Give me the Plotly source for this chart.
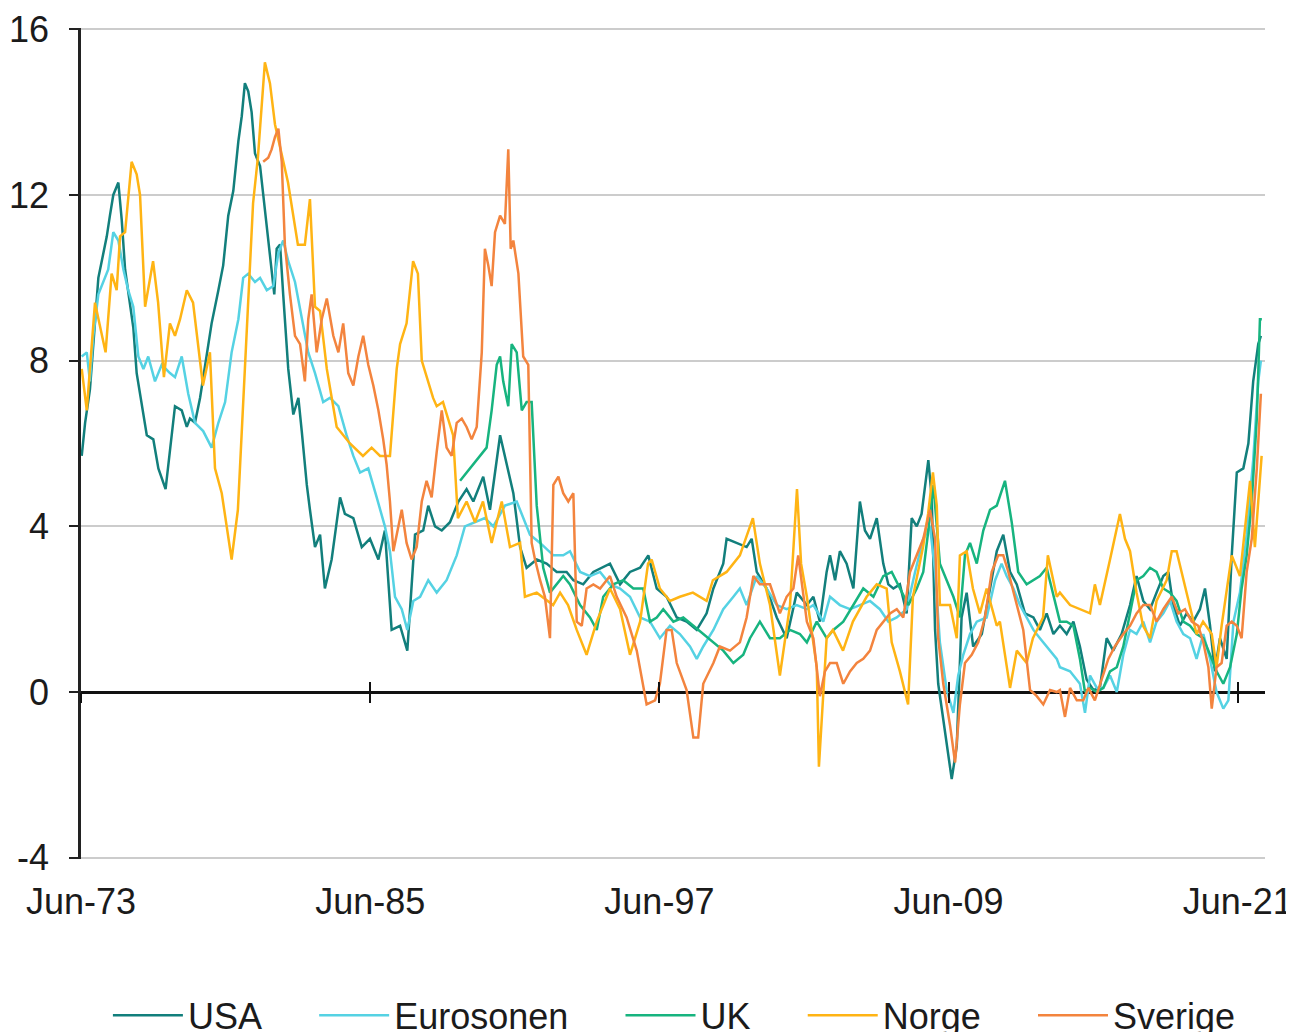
import plotly.graph_objects as go

# ---- data (year, y/y inflation %) ----
usa = [(1973.45,5.7),(1973.59,6.5),(1973.79,7.3),(1974.00,8.8),(1974.14,10.0),(1974.28,10.4),(1974.49,11.0),(1974.62,11.5),(1974.76,12.0),(1974.97,12.3),(1975.11,11.4),(1975.25,10.2),(1975.45,9.4),(1975.59,8.8),(1975.73,7.7),(1975.94,6.9),(1976.15,6.2),(1976.42,6.1),(1976.63,5.4),(1976.93,4.9),(1977.11,5.9),(1977.32,6.9),(1977.60,6.8),(1977.81,6.4),(1977.94,6.6),(1978.15,6.5),(1978.36,7.1),(1978.64,8.2),(1978.84,8.9),(1979.12,9.7),(1979.32,10.3),(1979.53,11.5),(1979.74,12.1),(1979.95,13.3),(1980.09,13.9),(1980.22,14.7),(1980.36,14.5),(1980.50,14.0),(1980.64,13.0),(1980.85,12.7),(1981.05,11.7),(1981.26,10.6),(1981.44,9.6),(1981.54,10.7),(1981.68,10.8),(1981.81,9.6),(1982.02,7.8),(1982.23,6.7),(1982.44,7.1),(1982.58,6.3),(1982.79,5.0),(1982.92,4.4),(1983.13,3.5),(1983.34,3.8),(1983.54,2.5),(1983.82,3.2),(1984.17,4.7),(1984.37,4.3),(1984.72,4.2),(1985.07,3.5),(1985.41,3.7),(1985.76,3.2),(1986.03,3.9),(1986.31,1.5),(1986.66,1.6),(1986.96,1.0),(1987.28,3.8),(1987.62,3.9),(1987.83,4.5),(1988.11,4.0),(1988.39,3.9),(1988.73,4.1),(1989.08,4.6),(1989.42,4.9),(1989.70,4.6),(1990.11,5.2),(1990.39,4.4),(1990.81,6.2),(1991.08,5.5),(1991.36,4.8),(1991.64,3.5),(1991.91,3.0),(1992.33,3.2),(1992.74,3.1),(1993.16,2.9),(1993.57,2.9),(1993.85,2.7),(1994.26,2.6),(1994.68,2.9),(1995.37,3.1),(1995.79,2.6),(1996.20,2.9),(1996.62,3.0),(1996.96,3.3),(1997.31,2.5),(1997.72,2.3),(1998.14,1.8),(1998.55,1.7),(1998.97,1.5),(1999.38,1.9),(1999.66,2.5),(2000.07,3.1),(2000.21,3.7),(2000.63,3.6),(2001.04,3.5),(2001.25,3.7),(2001.46,2.9),(2001.87,2.5),(2002.29,1.8),(2002.70,1.3),(2003.12,2.4),(2003.54,2.1),(2003.81,2.3),(2004.08,1.7),(2004.36,2.9),(2004.50,3.3),(2004.71,2.7),(2004.91,3.4),(2005.19,3.1),(2005.47,2.5),(2005.74,4.6),(2005.95,3.9),(2006.16,3.7),(2006.44,4.2),(2006.71,3.1),(2006.92,2.6),(2007.13,2.5),(2007.40,2.6),(2007.68,1.9),(2007.89,4.2),(2008.10,4.0),(2008.30,4.3),(2008.58,5.6),(2008.72,4.7),(2008.86,1.5),(2008.99,0.2),(2009.27,-0.9),(2009.55,-2.1),(2009.76,-1.3),(2009.96,1.8),(2010.17,2.4),(2010.44,1.1),(2010.80,1.4),(2011.14,2.5),(2011.42,3.4),(2011.69,3.8),(2011.97,2.9),(2012.25,2.6),(2012.59,1.9),(2012.94,1.8),(2013.21,1.5),(2013.49,1.9),(2013.77,1.4),(2014.04,1.6),(2014.32,1.4),(2014.60,1.7),(2014.87,1.1),(2015.15,0.3),(2015.43,0.05),(2015.70,0.1),(2015.98,1.3),(2016.25,1.0),(2016.60,1.4),(2016.95,2.1),(2017.22,2.8),(2017.50,2.2),(2017.78,2.0),(2018.05,2.4),(2018.33,2.8),(2018.54,2.9),(2018.74,2.1),(2019.02,1.6),(2019.30,1.9),(2019.57,1.7),(2019.85,2.0),(2020.06,2.5),(2020.27,1.6),(2020.47,0.5),(2020.68,1.3),(2020.96,0.8),(2021.17,3.3),(2021.38,5.3),(2021.65,5.4),(2021.86,6.0),(2022.06,7.5),(2022.27,8.4),(2022.38,8.6)]

eurosonen = [(1973.45,8.1),(1973.66,8.2),(1973.79,7.5),(1973.93,8.6),(1974.14,9.6),(1974.35,9.9),(1974.55,10.2),(1974.76,11.1),(1974.97,10.9),(1975.18,10.2),(1975.38,9.7),(1975.59,9.3),(1975.80,8.1),(1976.01,7.8),(1976.21,8.1),(1976.49,7.5),(1976.77,7.9),(1977.11,7.7),(1977.32,7.6),(1977.60,8.1),(1977.87,7.2),(1978.15,6.5),(1978.49,6.3),(1978.84,5.9),(1979.12,6.5),(1979.40,7.0),(1979.67,8.2),(1979.95,9.0),(1980.15,10.0),(1980.36,10.1),(1980.64,9.9),(1980.85,10.0),(1981.13,9.7),(1981.40,9.8),(1981.61,10.6),(1981.81,10.9),(1982.02,10.4),(1982.30,9.9),(1982.58,9.0),(1982.85,8.2),(1983.13,7.7),(1983.47,7.0),(1983.75,7.1),(1984.10,6.9),(1984.44,6.2),(1984.72,5.7),(1985.00,5.3),(1985.34,5.4),(1985.69,4.7),(1986.03,4.0),(1986.24,3.4),(1986.45,2.3),(1986.73,2.0),(1986.96,1.5),(1987.21,2.2),(1987.49,2.3),(1987.83,2.7),(1988.18,2.4),(1988.59,2.7),(1989.01,3.3),(1989.35,4.0),(1989.77,4.1),(1990.18,4.2),(1990.53,4.0),(1991.01,4.5),(1991.50,4.6),(1991.64,4.4),(1992.05,3.8),(1992.47,3.6),(1993.02,3.3),(1993.43,3.3),(1993.71,3.4),(1994.13,2.9),(1994.54,2.8),(1994.96,2.9),(1995.37,2.6),(1995.79,2.5),(1996.20,2.3),(1996.62,1.8),(1997.03,1.7),(1997.44,1.3),(1997.86,1.6),(1998.27,1.4),(1998.69,1.1),(1998.97,0.8),(1999.24,1.1),(1999.66,1.5),(2000.07,2.0),(2000.49,2.3),(2000.76,2.5),(2001.04,2.1),(2001.46,2.8),(2001.87,2.5),(2002.29,2.1),(2002.70,2.0),(2003.12,2.1),(2003.54,2.0),(2003.81,2.1),(2004.22,1.7),(2004.50,2.3),(2004.91,2.1),(2005.33,2.0),(2005.74,2.1),(2006.16,2.2),(2006.57,2.0),(2006.92,1.7),(2007.27,1.8),(2007.68,2.0),(2008.03,2.9),(2008.37,3.7),(2008.65,4.0),(2008.86,2.9),(2009.06,1.2),(2009.34,0.05),(2009.62,-0.5),(2009.82,0.4),(2010.03,0.9),(2010.31,1.4),(2010.59,1.7),(2011.00,1.8),(2011.35,2.7),(2011.62,3.1),(2011.83,2.8),(2012.11,2.5),(2012.38,2.1),(2012.66,1.8),(2012.94,1.5),(2013.21,1.3),(2013.63,1.0),(2013.91,0.8),(2014.04,0.6),(2014.46,0.5),(2014.87,0.2),(2015.08,-0.5),(2015.29,0.4),(2015.57,0.1),(2015.84,0.1),(2016.12,0.4),(2016.40,0.0),(2016.67,0.9),(2016.95,1.5),(2017.22,1.4),(2017.50,1.7),(2017.78,1.2),(2018.05,1.7),(2018.33,1.9),(2018.61,2.2),(2018.88,1.7),(2019.16,1.4),(2019.44,1.3),(2019.71,0.8),(2019.99,1.4),(2020.27,0.8),(2020.54,0.0),(2020.82,-0.4),(2021.03,-0.2),(2021.24,1.7),(2021.51,2.4),(2021.79,3.8),(2022.06,5.6),(2022.27,7.5),(2022.38,8.0)]

uk = [(1989.15,5.1),(1989.42,5.3),(1989.70,5.5),(1989.98,5.7),(1990.25,5.9),(1990.46,6.8),(1990.67,7.9),(1990.81,8.1),(1990.94,7.5),(1991.15,6.9),(1991.29,8.4),(1991.50,8.2),(1991.71,6.8),(1991.91,7.0),(1992.12,7.0),(1992.33,4.5),(1992.60,3.0),(1992.88,2.4),(1993.16,2.6),(1993.43,2.8),(1993.71,2.6),(1994.13,2.1),(1994.54,1.8),(1994.82,1.5),(1995.09,2.3),(1995.51,2.6),(1995.92,2.7),(1996.34,2.5),(1996.75,2.5),(1997.03,1.7),(1997.31,1.8),(1997.58,2.0),(1998.00,1.7),(1998.41,1.8),(1998.83,1.6),(1999.24,1.4),(1999.66,1.2),(2000.07,1.0),(2000.49,0.7),(2000.90,0.9),(2001.18,1.3),(2001.59,1.7),(2002.01,1.3),(2002.42,1.3),(2002.84,1.5),(2003.25,1.4),(2003.54,1.2),(2003.95,1.7),(2004.36,1.3),(2004.64,1.5),(2005.05,1.7),(2005.47,2.1),(2005.88,2.5),(2006.30,2.3),(2006.71,2.8),(2007.06,2.9),(2007.40,2.5),(2007.75,2.1),(2008.10,2.5),(2008.37,2.9),(2008.58,3.9),(2008.79,5.0),(2009.06,3.1),(2009.34,2.7),(2009.62,2.3),(2009.89,1.8),(2010.10,3.3),(2010.31,3.6),(2010.59,3.1),(2010.86,3.9),(2011.14,4.4),(2011.42,4.5),(2011.76,5.1),(2012.04,4.1),(2012.31,2.9),(2012.66,2.6),(2012.94,2.7),(2013.21,2.8),(2013.49,3.0),(2013.77,2.3),(2014.04,1.7),(2014.32,1.7),(2014.60,1.6),(2014.87,0.8),(2015.08,0.0),(2015.29,0.1),(2015.57,0.0),(2015.84,0.1),(2016.12,0.5),(2016.40,0.6),(2016.67,1.1),(2016.95,1.9),(2017.22,2.7),(2017.50,2.8),(2017.78,3.0),(2018.05,2.9),(2018.33,2.5),(2018.61,2.4),(2018.88,2.2),(2019.16,1.7),(2019.44,1.6),(2019.71,1.4),(2019.99,1.3),(2020.27,0.9),(2020.54,0.5),(2020.82,0.2),(2021.10,0.6),(2021.38,1.4),(2021.58,2.5),(2021.79,3.3),(2022.00,4.6),(2022.21,6.6),(2022.34,9.0),(2022.42,9.0)]

norge = [(1973.45,7.8),(1973.66,6.8),(1974.00,9.4),(1974.21,8.8),(1974.44,8.2),(1974.69,10.1),(1974.90,9.7),(1975.04,11.0),(1975.25,11.1),(1975.52,12.8),(1975.73,12.5),(1975.87,12.0),(1976.08,9.3),(1976.41,10.4),(1976.62,9.4),(1976.86,7.6),(1977.11,8.9),(1977.32,8.6),(1977.53,9.0),(1977.81,9.7),(1978.07,9.4),(1978.48,7.4),(1978.77,8.2),(1978.98,5.4),(1979.26,4.8),(1979.67,3.2),(1979.93,4.4),(1980.22,7.8),(1980.56,11.8),(1980.76,12.9),(1981.05,15.2),(1981.26,14.7),(1981.47,13.7),(1982.01,12.3),(1982.42,10.8),(1982.71,10.8),(1982.92,11.9),(1983.13,9.3),(1983.34,9.2),(1983.62,7.8),(1984.03,6.4),(1984.58,6.0),(1985.12,5.7),(1985.48,5.9),(1985.83,5.7),(1986.24,5.7),(1986.52,7.8),(1986.66,8.4),(1986.93,8.9),(1987.20,10.4),(1987.40,10.1),(1987.56,8.0),(1988.03,7.1),(1988.18,6.9),(1988.44,7.0),(1988.86,6.2),(1989.06,4.2),(1989.42,4.6),(1989.77,4.1),(1990.10,4.6),(1990.46,3.6),(1990.88,4.6),(1991.22,3.5),(1991.64,3.6),(1991.84,2.3),(1992.33,2.4),(1993.01,2.1),(1993.30,2.4),(1993.63,2.1),(1993.99,1.5),(1994.40,0.9),(1994.82,1.7),(1995.37,2.5),(1995.79,2.0),(1996.20,0.9),(1996.62,1.7),(1996.95,3.1),(1997.10,3.2),(1997.44,2.5),(1997.86,2.2),(1998.27,2.3),(1998.81,2.4),(1999.38,2.2),(1999.64,2.7),(2000.21,2.9),(2000.76,3.3),(2001.30,4.2),(2001.59,3.1),(2002.01,2.1),(2002.42,0.4),(2002.84,2.1),(2003.13,4.9),(2003.30,3.1),(2003.54,2.3),(2003.95,0.6),(2004.04,-1.8),(2004.36,1.3),(2004.62,1.5),(2005.04,1.0),(2005.45,1.7),(2006.02,2.3),(2006.44,2.6),(2006.85,2.5),(2007.06,1.2),(2007.40,0.5),(2007.74,-0.3),(2007.94,2.3),(2008.36,3.5),(2008.57,4.3),(2008.77,5.3),(2008.93,4.5),(2009.06,2.1),(2009.48,2.1),(2009.76,1.3),(2009.89,3.3),(2010.17,3.4),(2010.43,2.5),(2010.72,1.9),(2011.00,2.5),(2011.42,1.6),(2011.55,1.7),(2011.97,0.1),(2012.25,1.0),(2012.66,0.7),(2012.92,1.3),(2013.34,1.8),(2013.54,3.3),(2013.91,2.3),(2014.04,2.4),(2014.46,2.1),(2014.87,2.0),(2015.29,1.9),(2015.49,2.6),(2015.70,2.1),(2016.12,3.2),(2016.53,4.3),(2016.74,3.7),(2016.95,3.4),(2017.22,2.4),(2017.49,1.6),(2017.78,1.3),(2018.05,2.2),(2018.47,2.7),(2018.68,3.4),(2018.88,3.4),(2019.09,2.9),(2019.30,2.4),(2019.71,1.4),(2019.98,1.7),(2020.34,1.4),(2020.54,0.6),(2020.75,1.6),(2021.17,3.3),(2021.51,2.8),(2021.93,5.1),(2022.13,3.5),(2022.41,5.7)]

sverige = [(1980.98,12.8),(1981.19,12.9),(1981.33,13.1),(1981.47,13.4),(1981.61,13.6),(1981.75,12.8),(1981.88,10.8),(1982.09,9.6),(1982.30,8.6),(1982.51,8.4),(1982.71,7.5),(1982.85,9.0),(1982.99,9.6),(1983.20,8.2),(1983.41,9.0),(1983.62,9.5),(1983.89,8.6),(1984.10,8.2),(1984.30,8.9),(1984.51,7.7),(1984.72,7.4),(1984.93,8.1),(1985.13,8.6),(1985.34,7.9),(1985.55,7.4),(1985.76,6.8),(1985.96,6.1),(1986.10,5.5),(1986.24,4.6),(1986.38,3.4),(1986.52,3.8),(1986.73,4.4),(1986.93,3.6),(1987.14,3.2),(1987.35,3.5),(1987.56,4.6),(1987.76,5.1),(1987.97,4.7),(1988.18,5.8),(1988.39,6.8),(1988.59,5.9),(1988.80,5.7),(1989.01,6.5),(1989.22,6.6),(1989.42,6.4),(1989.63,6.1),(1989.84,6.4),(1990.05,8.2),(1990.18,10.7),(1990.32,10.3),(1990.46,9.8),(1990.60,11.1),(1990.81,11.5),(1991.01,11.3),(1991.15,13.1),(1991.25,10.7),(1991.36,10.9),(1991.57,10.1),(1991.77,8.1),(1991.98,7.9),(1992.12,3.6),(1992.26,3.2),(1992.47,2.7),(1992.67,2.3),(1992.88,1.3),(1993.02,5.0),(1993.23,5.2),(1993.43,4.8),(1993.64,4.6),(1993.85,4.8),(1993.99,1.7),(1994.20,1.6),(1994.40,2.5),(1994.68,2.6),(1994.96,2.5),(1995.37,2.8),(1995.65,2.3),(1996.06,1.8),(1996.48,1.0),(1996.89,-0.3),(1997.24,-0.2),(1997.44,0.2),(1997.72,1.5),(1997.93,1.5),(1998.14,0.7),(1998.55,0.05),(1998.83,-1.1),(1999.03,-1.1),(1999.24,0.2),(1999.66,0.7),(1999.93,1.1),(2000.35,1.0),(2000.76,1.2),(2001.04,1.8),(2001.32,2.8),(2001.59,2.6),(2002.01,2.6),(2002.42,1.9),(2002.70,2.3),(2002.98,2.5),(2003.18,3.3),(2003.39,2.3),(2003.54,1.7),(2003.81,1.3),(2004.08,-0.1),(2004.29,0.5),(2004.50,0.7),(2004.78,0.7),(2005.05,0.2),(2005.33,0.5),(2005.61,0.7),(2005.88,0.8),(2006.16,1.0),(2006.44,1.5),(2006.71,1.7),(2006.99,1.9),(2007.27,2.0),(2007.54,1.8),(2007.82,2.9),(2008.10,3.3),(2008.37,3.7),(2008.65,4.4),(2008.86,3.7),(2008.99,1.3),(2009.20,0.2),(2009.48,-0.8),(2009.69,-1.7),(2009.89,-0.3),(2010.10,0.7),(2010.38,0.9),(2010.65,1.2),(2010.93,1.8),(2011.21,2.9),(2011.48,3.3),(2011.69,3.3),(2011.90,2.9),(2012.25,2.1),(2012.52,1.5),(2012.80,0.05),(2013.08,-0.1),(2013.35,-0.3),(2013.63,0.05),(2013.91,0.0),(2014.04,0.05),(2014.25,-0.6),(2014.46,0.1),(2014.74,-0.2),(2015.01,-0.2),(2015.22,0.1),(2015.49,-0.2),(2015.77,0.3),(2016.05,0.8),(2016.32,1.1),(2016.67,1.4),(2016.95,1.6),(2017.22,1.9),(2017.50,2.1),(2017.78,2.1),(2018.05,1.7),(2018.33,2.0),(2018.68,2.3),(2018.95,1.9),(2019.23,2.0),(2019.51,1.7),(2019.78,1.6),(2019.99,1.2),(2020.20,0.6),(2020.34,-0.4),(2020.54,0.6),(2020.75,0.7),(2020.96,1.6),(2021.17,1.7),(2021.38,1.6),(2021.58,1.3),(2021.79,2.9),(2022.00,3.7),(2022.21,5.4),(2022.38,7.2)]

series_names = ["USA", "Eurosonen", "UK", "Norge", "Sverige"]
series_data = [usa, eurosonen, uk, norge, sverige]
series_colors = ["#127f7c", "#55d2e3", "#17b47f", "#ffb414", "#f3843e"]

tick_years = [1973.42, 1985.42, 1997.42, 2009.42, 2021.42]
tick_labels = ["Jun-73", "Jun-85", "Jun-97", "Jun-09", "Jun-21"]
y_ticks = [-4, 0, 4, 8, 12, 16]
y_tick_labels = ["-4", "0", "4", "8", "12", "16"]

x_range = [1973.42, 2022.55]
y_range = [-4.03, 16.03]

FONT = "Liberation Sans, Arial, sans-serif"
TXT = "#1b1b1b"

fig = go.Figure()
pad = "\u00a0" * 4 + "\u2009"
for i, (name, data, col) in enumerate(zip(series_names, series_data, series_colors)):
    xs = [p[0] for p in data]
    ys = [p[1] for p in data]
    label = name + (pad if i < len(series_names) - 1 else "")
    fig.add_trace(go.Scatter(x=xs, y=ys, mode="lines", name=label,
                             line=dict(color=col, width=2.5)))

# empty helper traces so the tick-only axes at y=0 are drawn
for ax in ["x2", "x3"]:
    fig.add_trace(go.Scatter(x=[], y=[], xaxis=ax, yaxis="y", showlegend=False,
                             hoverinfo="skip"))

zero_pos = (0 - y_range[0]) / (y_range[1] - y_range[0])

fig.update_layout(
    width=1294, height=1032,
    margin=dict(l=73, r=37, t=20, b=181),
    paper_bgcolor="white", plot_bgcolor="white",
    font=dict(family=FONT, size=36, color=TXT),
    showlegend=True,
    legend=dict(orientation="h", xref="container", yref="container",
                x=0.515, y=0.024, xanchor="center", yanchor="middle",
                itemwidth=70,
                font=dict(family=FONT, size=36, color=TXT),
                bgcolor="rgba(0,0,0,0)"),
    xaxis=dict(range=x_range, tickmode="array", tickvals=tick_years,
               ticktext=tick_labels, showgrid=False, zeroline=False,
               showline=False, ticks="", ticklabelstandoff=18, automargin=False,
               tickfont=dict(family=FONT, size=36, color=TXT)),
    xaxis2=dict(range=x_range, overlaying="x", anchor="free", position=zero_pos,
                tickmode="array", tickvals=tick_years, showticklabels=False,
                showgrid=False, zeroline=False, showline=False, automargin=False,
                ticks="outside", ticklen=10, tickwidth=2, tickcolor="#111"),
    xaxis3=dict(range=x_range, overlaying="x", anchor="free", position=zero_pos,
                tickmode="array", tickvals=tick_years, showticklabels=False,
                showgrid=False, zeroline=False, showline=False, automargin=False,
                ticks="inside", ticklen=10, tickwidth=2, tickcolor="#111"),
    yaxis=dict(range=y_range, tickmode="array", tickvals=y_ticks,
               ticktext=y_tick_labels, automargin=False,
               showgrid=True, gridcolor="#cccccc", gridwidth=2,
               zeroline=True, zerolinecolor="#111111", zerolinewidth=2.5,
               showline=True, linecolor="#222222", linewidth=2.5,
               ticks="outside", ticklen=9, tickwidth=2, tickcolor="#222222",
               ticklabelstandoff=13,
               tickfont=dict(family=FONT, size=36, color=TXT)),
)

fig.write_html("out.html")
